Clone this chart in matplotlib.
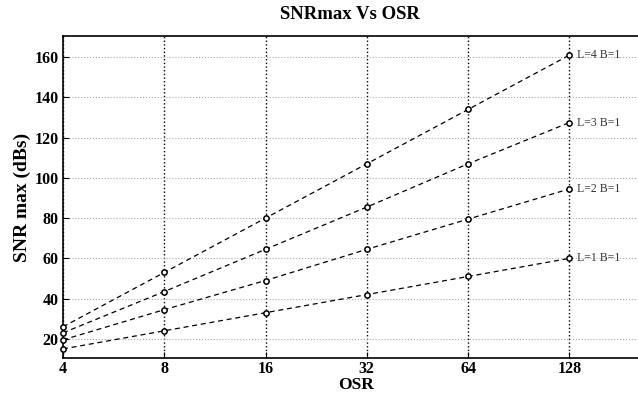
import numpy as np
import matplotlib; matplotlib.use("Agg")
import matplotlib.pyplot as plt

osr = [4, 8, 16, 32, 64, 128]
snr_l1 = [15, 24, 33, 42, 51, 60]
snr_l2 = [19.5, 34.5, 49, 64.5, 79.5, 94.5]
snr_l3 = [23, 43.5, 64.5, 85.5, 107, 127.5]
snr_l4 = [26, 53, 80, 107, 134, 161]
labels = ["L=1 B=1", "L=2 B=1", "L=3 B=1", "L=4 B=1"]
yticks = [20, 40, 60, 80, 100, 120, 140, 160]

plt.rcParams["font.family"] = ["Liberation Serif", "DejaVu Serif"]

fig = plt.figure(figsize=(6.38, 3.94), dpi=100)
ax = fig.add_axes([0.0987, 0.0914, 0.901, 0.8172])

for ys, lab in zip([snr_l1, snr_l2, snr_l3, snr_l4], labels):
    ax.plot(osr, ys, ls="--", color="black", lw=0.9, dashes=(4, 3),
            marker="o", ms=3.8, mfc="white", mec="black", mew=1.1, clip_on=False, zorder=3)
    ax.text(osr[-1] * 1.055, ys[-1], lab, fontsize=8.5, color="#333333", va="center", ha="left")

ax.set_xscale("log", base=2)
ax.set_xlim(4, 204.5)
ax.set_ylim(10.5, 170.5)
ax.set_xticks(osr)
ax.set_xticklabels([str(v) for v in osr])
ax.set_yticks(yticks)
ax.minorticks_off()
ax.tick_params(direction="in", length=4, labelsize=11.5)
ax.tick_params(axis="x", pad=2)
ax.tick_params(axis="y", pad=3)
for t in ax.get_xticklabels() + ax.get_yticklabels():
    t.set_fontweight("bold")

ax.xaxis.grid(True, ls=":", color="black", lw=1.0)
ax.yaxis.grid(True, ls=":", color="#aaaaaa", lw=0.8)
ax.set_axisbelow(True)
for s in ["left", "bottom", "top"]:
    ax.spines[s].set_linewidth(1.2)
ax.spines["right"].set_visible(False)

ax.set_xlabel("OSR", fontsize=12.5, fontweight="bold")
ax.xaxis.set_label_coords(0.51, -0.058)
ax.set_ylabel("SNR max (dBs)", fontsize=14, fontweight="bold", labelpad=3)
ax.set_title("SNRmax Vs OSR", fontsize=13.5, fontweight="bold", pad=12)

fig.savefig("out.png", dpi=100)
